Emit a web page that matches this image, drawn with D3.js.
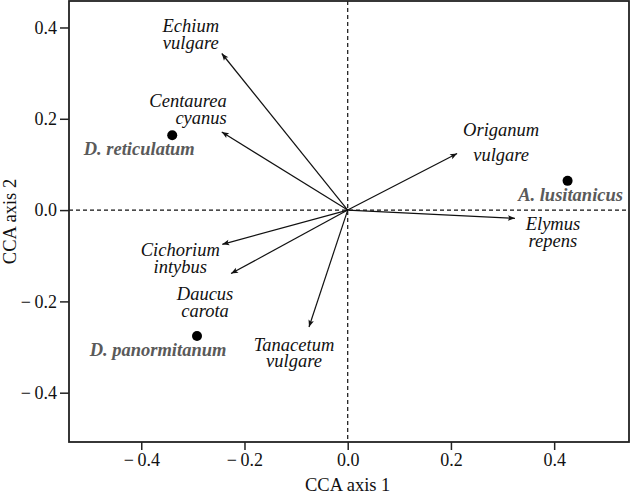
<!doctype html>
<html lang="en">
<head>
<meta charset="utf-8">
<style>
    body { margin: 0; background: #fff; }
    text { font-family: "Liberation Serif", "Times New Roman", serif; }
</style>
</head>
<body>
<div id="chart"></div>
<script src="https://d3js.org/d3.v7.min.js"></script>
<script>

    // species vectors (CCA biplot arrows)
    let species = ['Echium vulgare', 'Centaurea cyanus', 'Cichorium intybus', 'Daucus carota',
        'Tanacetum vulgare', 'Origanum vulgare', 'Elymus repens'];
    let speciesAxis1 = [-0.244, -0.244, -0.243, -0.226, -0.075, 0.212, 0.324];
    let speciesAxis2 = [0.343, 0.171, -0.075, -0.139, -0.256, 0.124, -0.018];

    // sites (points)
    let sites = ['D. reticulatum', 'A. lusitanicus', 'D. panormitanum'];
    let siteAxis1 = [-0.34, 0.426, -0.292];
    let siteAxis2 = [0.164, 0.064, -0.276];

    let xTicks = [-0.4, -0.2, 0, 0.2, 0.4];
    let yTicks = [-0.4, -0.2, 0, 0.2, 0.4];

    // label placement, pixels relative to arrow tip / point
    let speciesLabelPos = [
        {dx: -31, dy: -22, anchor: 'middle', lh: 17},
        {dx: 5, dy: -25, anchor: 'end', lh: 17},
        {dx: -42, dy: 12, anchor: 'middle', lh: 17},
        {dx: -26, dy: 26, anchor: 'middle', lh: 17},
        {dx: -15, dy: 24, anchor: 'middle', lh: 16},
        {dx: 44, dy: -17, anchor: 'middle', lh: 25},
        {dx: 38, dy: 12, anchor: 'middle', lh: 17}
    ];
    let siteLabelPos = [
        {dx: -33, dy: 20},
        {dx: 3, dy: 20},
        {dx: -39, dy: 20}
    ];

    let width = 631;
    let height = 497;
    let margin = {top: 1, right: 2, bottom: 55, left: 69};
    let fontSize = '18.5px';

    let svg = d3.select('#chart').append('svg')
        .attr('width', width)
        .attr('height', height);

    let x = d3.scaleLinear()
        .domain([-0.54, 0.545])
        .range([margin.left, width - margin.right]);

    let y = d3.scaleLinear()
        .domain([-0.508, 0.458])
        .range([height - margin.bottom, margin.top]);

    let fmt = (d) => d < 0 ? '\u2212\u2009' + d3.format('.1f')(-d) : d3.format('.1f')(d);

    // arrow marker
    svg.append('defs').append('marker')
        .attr('id', 'head')
        .attr('viewBox', '-8 -4 9 8')
        .attr('refX', 0)
        .attr('refY', 0)
        .attr('markerWidth', 9)
        .attr('markerHeight', 8)
        .attr('markerUnits', 'userSpaceOnUse')
        .attr('orient', 'auto')
        .append('path')
        .attr('d', 'M0,0L-7,-2.8L-5.5,0L-7,2.8Z')
        .attr('fill', '#111');

    // dashed zero lines
    svg.append('line')
        .attr('x1', x(0)).attr('x2', x(0))
        .attr('y1', y.range()[1]).attr('y2', y.range()[0])
        .attr('stroke', '#111').attr('stroke-width', 1.2)
        .attr('stroke-dasharray', '4,3');
    svg.append('line')
        .attr('x1', x.range()[0]).attr('x2', x.range()[1])
        .attr('y1', y(0)).attr('y2', y(0))
        .attr('stroke', '#111').attr('stroke-width', 1.2)
        .attr('stroke-dasharray', '4,3');

    // axes
    let xAxis = svg.append('g')
        .attr('transform', `translate(0,${height - margin.bottom})`)
        .call(d3.axisBottom(x).tickValues(xTicks).tickFormat(fmt).tickSize(8).tickPadding(3));
    let yAxis = svg.append('g')
        .attr('transform', `translate(${margin.left},0)`)
        .call(d3.axisLeft(y).tickValues(yTicks).tickFormat(fmt).tickSize(9).tickPadding(3));

    [xAxis, yAxis].forEach((g) => {
        g.select('.domain').remove();
        g.selectAll('line').attr('stroke', '#222').attr('stroke-width', 1.5);
        g.selectAll('text').attr('font-size', '18px').attr('fill', '#111')
            .attr('font-family', '"Liberation Serif", serif');
    });

    // frame
    svg.append('rect')
        .attr('x', x.range()[0])
        .attr('y', y.range()[1])
        .attr('width', x.range()[1] - x.range()[0])
        .attr('height', y.range()[0] - y.range()[1])
        .attr('fill', 'none')
        .attr('stroke', '#222')
        .attr('stroke-width', 1.8);

    // axis titles
    svg.append('text')
        .attr('x', x(0))
        .attr('y', 491)
        .attr('text-anchor', 'middle')
        .attr('font-size', fontSize)
        .attr('fill', '#111')
        .text('CCA axis 1');
    svg.append('text')
        .attr('transform', `translate(16,${(y.range()[0] + y.range()[1]) / 2}) rotate(-90)`)
        .attr('text-anchor', 'middle')
        .attr('font-size', fontSize)
        .attr('fill', '#111')
        .text('CCA axis 2');

    // arrows
    let vectors = species.map((name, i) => ({name: name, a1: speciesAxis1[i], a2: speciesAxis2[i], pos: speciesLabelPos[i]}));

    svg.append('g').selectAll('line')
        .data(vectors)
        .join('line')
        .attr('x1', x(0))
        .attr('y1', y(0))
        .attr('x2', (d) => x(d.a1))
        .attr('y2', (d) => y(d.a2))
        .attr('stroke', '#111')
        .attr('stroke-width', 1.2)
        .attr('marker-end', 'url(#head)');

    let speciesLabels = svg.append('g').selectAll('text')
        .data(vectors)
        .join('text')
        .attr('x', (d) => x(d.a1) + d.pos.dx)
        .attr('y', (d) => y(d.a2) + d.pos.dy)
        .attr('text-anchor', (d) => d.pos.anchor)
        .attr('font-size', fontSize)
        .attr('font-style', 'italic')
        .attr('fill', '#111');

    speciesLabels.selectAll('tspan')
        .data((d) => d.name.split(' ').map((w) => ({w: w, d: d})))
        .join('tspan')
        .attr('x', (t) => x(t.d.a1) + t.d.pos.dx)
        .attr('dy', (t, i) => i === 0 ? 0 : t.d.pos.lh)
        .text((t) => t.w);

    // site points
    let points = sites.map((name, i) => ({name: name, a1: siteAxis1[i], a2: siteAxis2[i], pos: siteLabelPos[i]}));

    svg.append('g').selectAll('circle')
        .data(points)
        .join('circle')
        .attr('cx', (d) => x(d.a1))
        .attr('cy', (d) => y(d.a2))
        .attr('r', 5)
        .attr('fill', '#000');

    svg.append('g').selectAll('text')
        .data(points)
        .join('text')
        .attr('x', (d) => x(d.a1) + d.pos.dx)
        .attr('y', (d) => y(d.a2) + d.pos.dy)
        .attr('text-anchor', 'middle')
        .attr('font-size', fontSize)
        .attr('font-style', 'italic')
        .attr('font-weight', 'bold')
        .attr('fill', '#5a5a5a')
        .text((d) => d.name);

</script>
</body>
</html>
